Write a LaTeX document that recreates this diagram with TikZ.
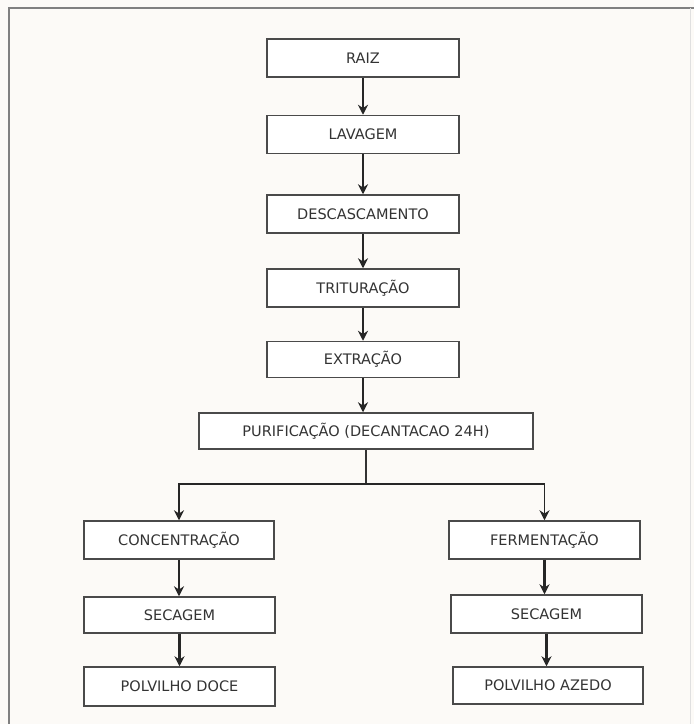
\documentclass[tikz,border=0pt]{standalone}
\usepackage{fontspec}
\setmainfont{DejaVu Sans}
\usetikzlibrary{arrows.meta}

\definecolor{paper}{HTML}{FCFAF7}
\definecolor{boxline}{HTML}{4A4A4A}

\begin{document}
\begin{tikzpicture}[x=1pt, y=-1pt,
  etapa/.style={draw=boxline, line width=1.5pt, fill=white, minimum width=192pt,
    minimum height=38pt, inner sep=0pt, text=black!80,
    font=\fontsize{14.5}{16}\selectfont},
  seta/.style={draw=black!85, line width=2.2pt, -{Stealth[length=10pt,width=10pt]}}]

  \useasboundingbox (0,0) rectangle (694,724);
  \fill[paper] (0,0) rectangle (694,724);
  \draw[black!50, line width=2pt] (9,724) -- (9,8) -- (694,8);
  \draw[black!12, line width=1pt] (690,8) -- (690,724);

  % main column
  \node[etapa] (raiz) at (363,58) {RAIZ};
  \node[etapa] (lavagem) at (363,134.5) {LAVAGEM};
  \node[etapa] (descasc) at (363,214) {DESCASCAMENTO};
  \node[etapa] (trit) at (363,288) {TRITURAÇÃO};
  \node[etapa, minimum height=36pt] (extr) at (363,359.5) {EXTRAÇÃO};
  \node[etapa, minimum width=334pt, minimum height=36pt] (purif) at (366,431) {PURIFICAÇÃO (DECANTACAO 24H)};
  \coordinate (split) at (366,484);

  % left branch
  \node[etapa, minimum width=190pt] (conc) at (179,540) {CONCENTRAÇÃO};
  \node[etapa, minimum width=191pt, minimum height=36pt] (sec1) at (179.5,615) {SECAGEM};
  \node[etapa, minimum width=191pt, minimum height=39pt] (doce) at (179.5,686.5) {POLVILHO DOCE};

  % right branch
  \node[etapa, minimum width=191pt] (ferm) at (544.5,540) {FERMENTAÇÃO};
  \node[etapa, minimum width=191pt] (sec2) at (546.5,614) {SECAGEM};
  \node[etapa, minimum width=190pt, minimum height=37pt] (azedo) at (548,685.5) {POLVILHO AZEDO};

  % arrows
  \draw[seta] (raiz) -- (lavagem);
  \draw[seta] (lavagem) -- (descasc);
  \draw[seta] (descasc) -- (trit);
  \draw[seta] (trit) -- (extr);
  \draw[seta] (extr.south) -- (extr.south |- purif.north);
  \draw[black!80, line width=1.6pt] (purif) -- (split);
  \draw[seta, line width=1.6pt] (split) -| (conc);
  \draw[seta, line width=1.6pt] (split) -| (ferm);
  \draw[seta] (conc.south) -- (conc.south |- sec1.north);
  \draw[seta] (sec1.south) -- (sec1.south |- doce.north);
  \draw[seta] (ferm.south) -- (ferm.south |- sec2.north);
  \draw[seta] (sec2.south) -- (sec2.south |- azedo.north);
\end{tikzpicture}
\end{document}
